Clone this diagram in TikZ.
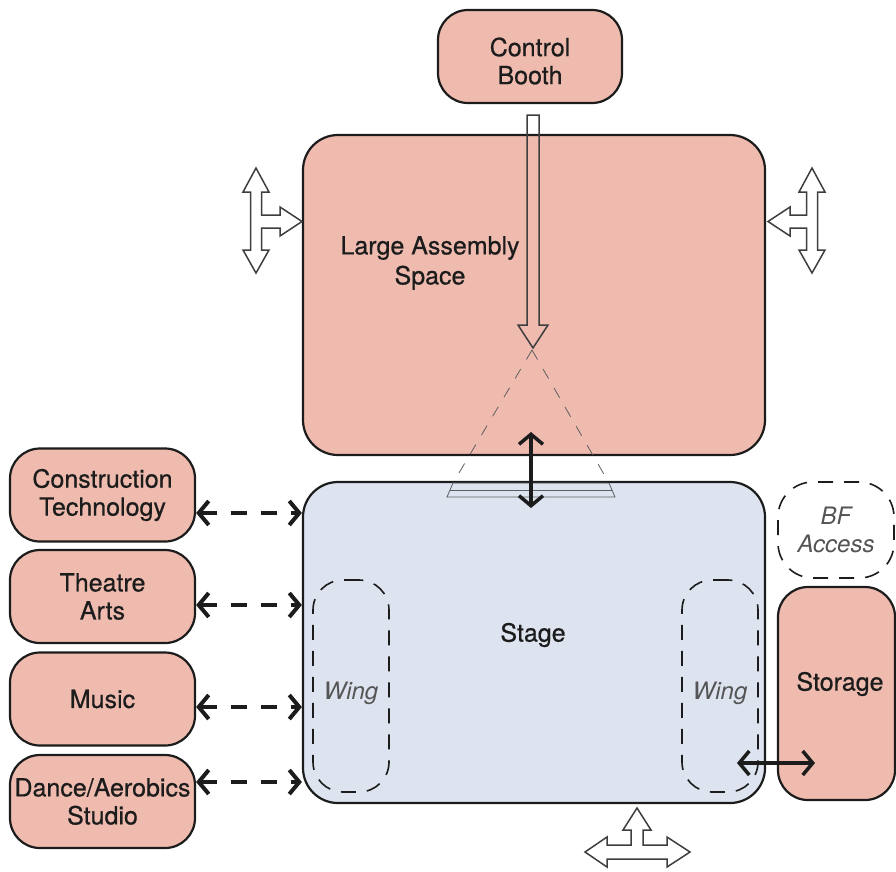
\documentclass[tikz,border=0pt]{standalone}
\usepackage{fontspec}
\setmainfont{TeX Gyre Heros}
\newfontfamily\roomfont{TeX Gyre Heros}[FakeBold=0.6]
\usetikzlibrary{arrows.meta}
\definecolor{roomfill}{RGB}{239,187,175}
\definecolor{stagefill}{RGB}{221,228,240}
\definecolor{edgeline}{RGB}{28,28,28}
\definecolor{softgray}{RGB}{85,85,85}
\definecolor{conegray}{RGB}{95,95,95}

\begin{document}
\begin{tikzpicture}[x=1pt,y=-1pt,
  room/.style={draw=edgeline,line width=2.2pt,fill=roomfill,rounded corners=30pt,
    align=center,text=edgeline,font=\roomfont\fontsize{25}{28}\selectfont,inner sep=0pt},
  stagebox/.style={room,fill=stagefill,rounded corners=35pt},
  zone/.style={draw=edgeline,line width=1.6pt,dash pattern=on 15pt off 11pt,
    rounded corners=30pt,align=center,text=softgray,
    font=\fontsize{24}{28}\selectfont\itshape,inner sep=0pt},
  zonetext/.style={align=center,text=softgray,font=\fontsize{24}{28}\selectfont\itshape,inner sep=0pt},
  label/.style={align=center,text=edgeline,font=\roomfont\fontsize{25}{30}\selectfont,inner sep=0pt},
  chev/.tip={Straight Barb[length=10pt,width=24pt]},
  dasharrow/.style={draw=edgeline,line width=4pt,dash pattern=on 16pt off 14pt,
    {chev}-{chev}},
  solidarrow/.style={draw=edgeline,line width=3.5pt,{chev}-{chev}},
  hollow/.style={draw=edgeline!85,line width=1.5pt,line join=miter},
  cone/.style={draw=conegray,line width=0.8pt,dash pattern=on 11pt off 11pt},
]
\useasboundingbox (0,0) rectangle (896,871);

% rooms
\node[room,minimum width=184pt,minimum height=93pt] (booth) at (530,56.5) {};
\node[label,font=\roomfont\fontsize{25}{28}\selectfont] (boothtext) at (530,61) {Control\\Booth};
\node[room,minimum width=462pt,minimum height=320pt,rounded corners=35pt] (hall) at (534,295) {};
\node[label] (halltext) at (430,263) {Large Assembly\\Space};
\node[stagebox,minimum width=462pt,minimum height=321pt] (stage) at (534,642.5) {};
\node[label] (stagetext) at (533,635) {Stage};

\node[room,minimum width=185pt,minimum height=93pt] (ct) at (102.5,495) {Construction\\Technology};
\node[room,minimum width=185pt,minimum height=93pt] (ta) at (102.5,596.5) {Theatre\\Arts};
\node[room,minimum width=185pt,minimum height=93pt] (mu) at (102.5,699) {Music};
\node[room,minimum width=185pt,minimum height=93pt] (da) at (102.5,801.5) {Dance/Aerobics\\Studio};

\node[room,minimum width=117pt,minimum height=213pt] (storage) at (836.5,693.5) {};
\node[label] (storagetext) at (840,684) {Storage};
\node[zone,minimum width=116pt,minimum height=96pt,rounded corners=35pt] (bf) at (836,530) {BF\\Access};

% wings inside the stage
\node[zone,minimum width=76pt,minimum height=212pt] (wingL) at (351,686) {};
\node[zonetext] (wingLtext) at (351,693) {Wing};
\node[zone,minimum width=76pt,minimum height=212pt] (wingR) at (720,686) {};
\node[zonetext] (wingRtext) at (720,693) {Wing};

% sight lines from the booth down to the apron
\coordinate (apex) at (532,350);
\coordinate (apronL) at (453,483);
\coordinate (apronR) at (609,483);
\draw[cone] (apex) -- (apronL);
\draw[cone] (apex) -- (apronR);
\draw[draw=conegray,line width=0.8pt] (apronL) -- (apronR) -- (615,497) -- (447,497) -- cycle;
\draw[draw=conegray,line width=0.8pt] (450,490) -- (612,490);

% hollow arrow from the booth into the hall
\draw[hollow] (527,115) -- (539,115) -- (539,325) -- (548,325) -- (533,348)
  -- (518,325) -- (527,325) -- cycle;

% hall / stage link
\coordinate (hallpt) at (531,432);
\coordinate (stagept) at (531,508);
\draw[solidarrow] (hallpt) -- (stagept);

% department links to the stage
\draw[dasharrow] ([yshift=-18pt]ct.east) -- ([yshift=-18pt]ct.east -| stage.west);
\draw[dasharrow] ([yshift=-8.5pt]ta.east) -- ([yshift=-8.5pt]ta.east -| stage.west);
\draw[dasharrow] ([yshift=-8pt]mu.east) -- ([yshift=-8pt]mu.east -| stage.west);
\draw[dasharrow] ([yshift=19.5pt]da.east) -- ([yshift=19.5pt]da.east -| stage.west);

% wing / storage link
\coordinate (wingpt) at (737,763);
\coordinate (storept) at (815,763);
\draw[solidarrow] (wingpt) -- (storept);

% circulation arrows
\draw[hollow] (256,168) -- (269,192) -- (261.5,192) -- (261.5,215) -- (280,215)
  -- (280,207) -- (302,221.5) -- (280,236) -- (280,228) -- (261.5,228)
  -- (261.5,250) -- (269,250) -- (256,273) -- (243,250) -- (250.5,250)
  -- (250.5,192) -- (243,192) -- cycle;
\draw[hollow] (812,168) -- (825,192) -- (817.5,192) -- (817.5,250) -- (825,250)
  -- (812,273) -- (799,250) -- (806.5,250) -- (806.5,228) -- (790,228)
  -- (790,236) -- (768,221.5) -- (790,207) -- (790,215) -- (806.5,215)
  -- (806.5,192) -- (799,192) -- cycle;
\draw[hollow] (637,808) -- (651,830) -- (643,830) -- (643,845) -- (667,845)
  -- (667,837) -- (690,852) -- (667,867) -- (667,859) -- (607,859)
  -- (607,867) -- (585,852) -- (607,837) -- (607,845) -- (631,845)
  -- (631,830) -- (623,830) -- cycle;
\end{tikzpicture}
\end{document}
